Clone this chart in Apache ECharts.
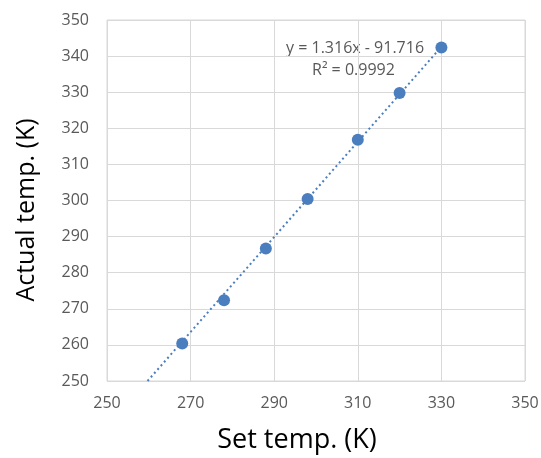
<!DOCTYPE html>
<html>
<head>
<meta charset="utf-8">
<script src="https://cdn.jsdelivr.net/npm/echarts@6/dist/echarts.min.js"></script>
<style>
html,body{margin:0;padding:0;background:#fff;}
#c{width:541px;height:458px;}
</style>
</head>
<body>
<div id="c"></div>
<script>
const setTemp = [268, 278, 288, 298, 310, 320, 330];
const actualTemp = [260.4, 272.4, 286.7, 300.4, 316.8, 329.8, 342.4];
const trendX = [259.7, 330];
const trendY = [250, 342.6];
const xTicks = [250, 270, 290, 310, 330, 350];
const yTicks = [250, 260, 270, 280, 290, 300, 310, 320, 330, 340, 350];
const eqText = 'y = 1.316x - 91.716';
const r2Text = 'R² = 0.9992';
const xTitle = 'Set temp. (K)';
const yTitle = 'Actual temp. (K)';

const blue = '#4a7ebf';
const gray = '#595959';
const font = '"Open Sans", sans-serif';

const chart = echarts.init(document.getElementById('c'));
chart.setOption({
  animation: false,
  backgroundColor: '#fff',
  grid: { left: 107, top: 20, right: 16, bottom: 77, show: true, borderColor: '#d9d9d9', borderWidth: 1,
          outerBoundsMode: 'none', containLabel: false },
  xAxis: {
    type: 'value', min: xTicks[0], max: xTicks[xTicks.length - 1], interval: 20,
    axisLine: { show: false }, axisTick: { show: false },
    axisLabel: { color: gray, fontSize: 16, fontFamily: font, margin: 14 },
    splitLine: { lineStyle: { color: '#d9d9d9' } }
  },
  yAxis: {
    type: 'value', min: yTicks[0], max: yTicks[yTicks.length - 1], interval: 10,
    axisLine: { show: false }, axisTick: { show: false },
    axisLabel: { color: gray, fontSize: 16, fontFamily: font, margin: 18 },
    splitLine: { lineStyle: { color: '#d9d9d9' } }
  },
  series: [
    {
      type: 'line',
      data: trendX.map((x, i) => [x, trendY[i]]),
      showSymbol: false, symbol: 'none',
      lineStyle: { color: blue, width: 2, type: [2, 3] },
      silent: true, z: 1
    },
    {
      type: 'scatter',
      data: setTemp.map((x, i) => [x, actualTemp[i]]),
      symbolSize: 12,
      itemStyle: { color: blue, opacity: 1 },
      z: 2
    }
  ],
  graphic: [
    { type: 'text', left: 286, top: 40, style: { text: eqText, fill: gray, fontSize: 16, fontFamily: font } },
    { type: 'text', left: 312, top: 62, style: { text: r2Text, fill: gray, fontSize: 16, fontFamily: font } },
    { type: 'text', x: 297, y: 440, style: { text: xTitle, fill: '#000', fontSize: 27, fontFamily: font, align: 'center', verticalAlign: 'middle' } },
    { type: 'text', x: 27, y: 210, rotation: Math.PI / 2, style: { text: yTitle, fill: '#000', fontSize: 25, fontFamily: font, align: 'center', verticalAlign: 'middle' } }
  ]
});
</script>
</body>
</html>
